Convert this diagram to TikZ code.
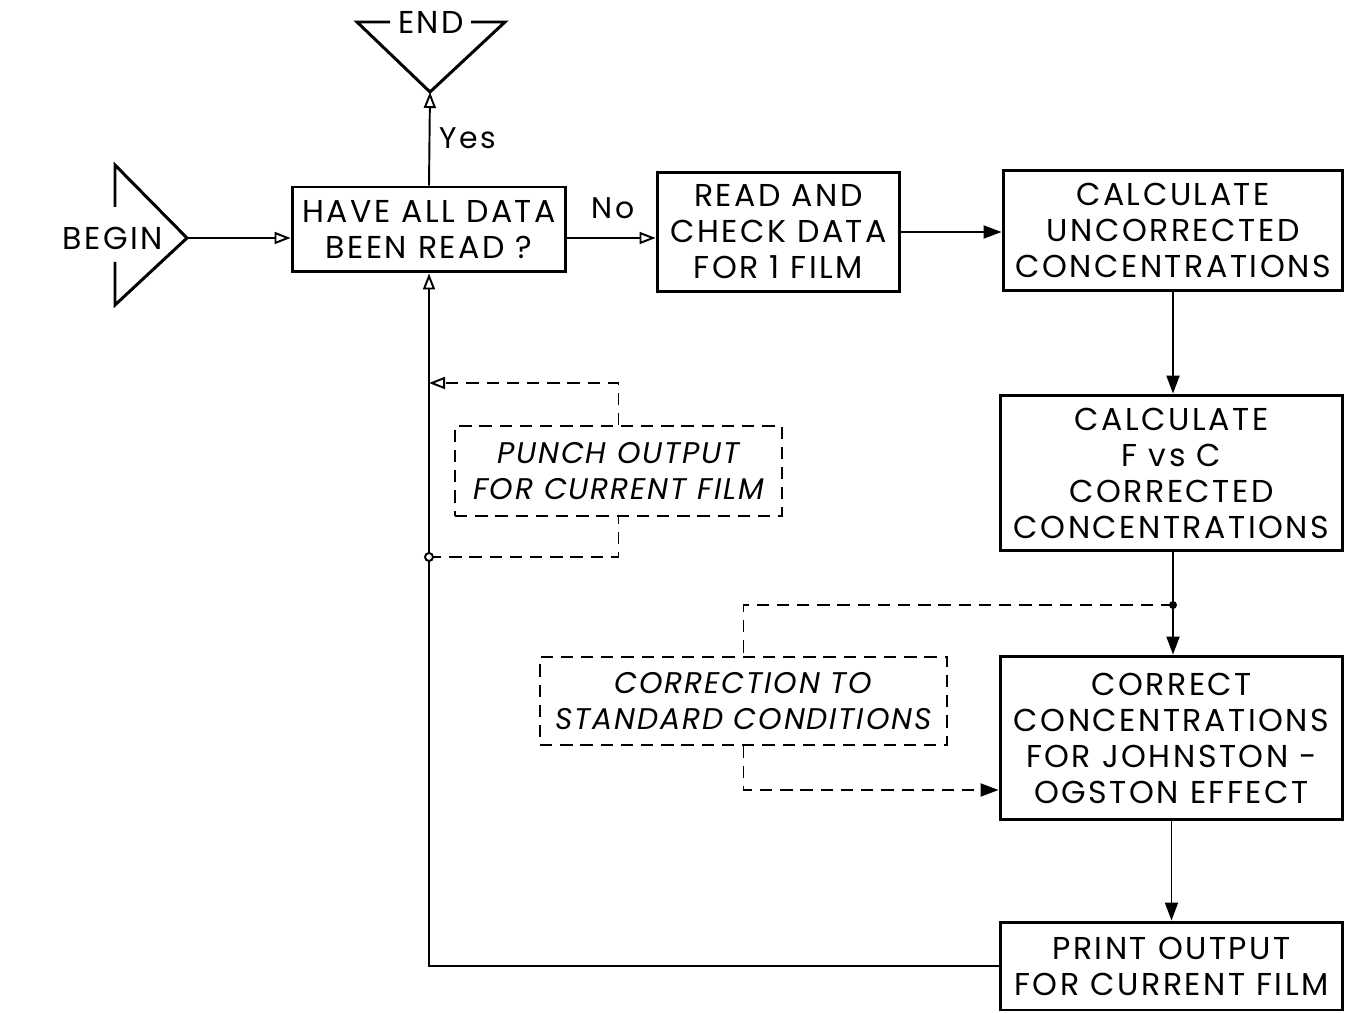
\documentclass[tikz,border=0pt]{standalone}
\usepackage{fontspec}
\setmainfont{Poppins}[LetterSpace=8]
\newfontfamily\manfont{Poppins}[LetterSpace=6]
\usetikzlibrary{positioning,arrows.meta}
\tikzset{
  openarrow/.style={-{Triangle[open,length=3.2mm,width=2.4mm]}, line width=1.1pt},
  fullarrow/.style={-{Triangle[length=3.6mm,width=2.6mm]}, line width=1.1pt},
  dasharrow/.style={-{Triangle[length=3.6mm,width=2.6mm]}, line width=1.1pt, dash pattern=on 7pt off 4.5pt},
  dashopen/.style={-{Triangle[open,length=3.2mm,width=2.4mm]}, line width=1.1pt, dash pattern=on 7pt off 4.5pt},
  dashline/.style={line width=1.1pt, dash pattern=on 7pt off 4.5pt},
  procbox/.style={draw, line width=1.7pt, align=center, inner sep=0pt},
  manbox/.style={draw, line width=1.1pt, dash pattern=on 7pt off 4.5pt, align=center, inner sep=0pt, font=\manfont\fontsize{17}{20.5}\selectfont\itshape},
  termline/.style={line width=1.7pt, line join=miter},
  flowlabel/.style={font=\fontsize{17}{20}\selectfont}
}

\begin{document}
\begin{tikzpicture}[x=0.02cm, y=-0.02cm, every node/.style={font=\fontsize{18}{20.5}\selectfont}]
  \useasboundingbox (0,0) rectangle (1350,1013);
  % terminals
  \draw[termline] (390,22) -- (357,22) -- (430,92) -- (505,22) -- (471,22);
  \node (endlbl) at (431,22) {END};
  \coordinate (eapex) at (430,92);
  \draw[termline] (115,207) -- (115,165) -- (187,238) -- (115,305) -- (115,262);
  \node (beginlbl) at (113,238) {BEGIN};
  \coordinate (bapex) at (187,238);
  % process boxes
  \node[procbox, minimum width=5.48cm, minimum height=1.70cm] (have) at (429,229.5) {HAVE ALL DATA\\BEEN READ ?};
  \node[procbox, minimum width=4.86cm, minimum height=2.40cm] (read) at (778.5,232) {READ AND\\CHECK DATA\\FOR 1 FILM};
  \node[procbox, minimum width=6.80cm, minimum height=2.42cm] (calca) at (1173,230.5) {CALCULATE\\UNCORRECTED\\CONCENTRATIONS};
  \node[procbox, minimum width=6.86cm, minimum height=3.12cm] (calcb) at (1171.5,473) {CALCULATE\\F vs C\\CORRECTED\\CONCENTRATIONS};
  \node[procbox, minimum width=6.86cm, minimum height=3.28cm] (jocorr) at (1171.5,738) {CORRECT\\CONCENTRATIONS\\FOR JOHNSTON -\\OGSTON EFFECT};
  \node[procbox, minimum width=6.86cm, minimum height=1.76cm] (print) at (1171.5,966) {PRINT OUTPUT\\FOR CURRENT FILM};
  % dashed boxes
  \node[manbox, minimum width=6.54cm, minimum height=1.80cm] (punch) at (618.5,471) {PUNCH OUTPUT\\FOR CURRENT FILM};
  \node[manbox, minimum width=8.14cm, minimum height=1.76cm] (stdcond) at (743.5,701) {CORRECTION TO\\STANDARD CONDITIONS};
  % main flow
  \draw[openarrow] (bapex) -- (bapex -| have.west);
  \draw[openarrow] (have.north) -- (eapex);
  \node[flowlabel] (yes) at (468,138) {Yes};
  \draw[openarrow] (have.east |- bapex) -- (bapex -| read.west);
  \node[flowlabel] (no) at (613,208) {No};
  \draw[fullarrow] (read.east) -- (read.east -| calca.west);
  \draw[fullarrow] (calca.south) -- (calca.south |- calcb.north);
  \coordinate (jr) at (1173,605);
  \draw[line width=1.1pt] (calcb.south -| jr) -- (jr);
  \draw[fullarrow] (jr) -- (jr |- jocorr.north);
  \fill (jr) circle (4);
  \draw[fullarrow] (jocorr.south) -- (jocorr.south |- print.north);
  \draw[openarrow] (print.west) -| (have.south);
  % side branches
  \draw[dashline] (jr) -| (stdcond.north);
  \coordinate (jin) at (743,790);
  \draw[dasharrow] (stdcond.south) |- (jin -| jocorr.west);
  \coordinate (jl) at (429,557);
  \coordinate (jback) at (429,383);
  \draw[dashline] (jl) -| (punch.south);
  \draw[dashopen] (punch.north) |- (jback);
  \draw[line width=1.1pt, fill=white] (jl) circle (4);
\end{tikzpicture}
\end{document}
